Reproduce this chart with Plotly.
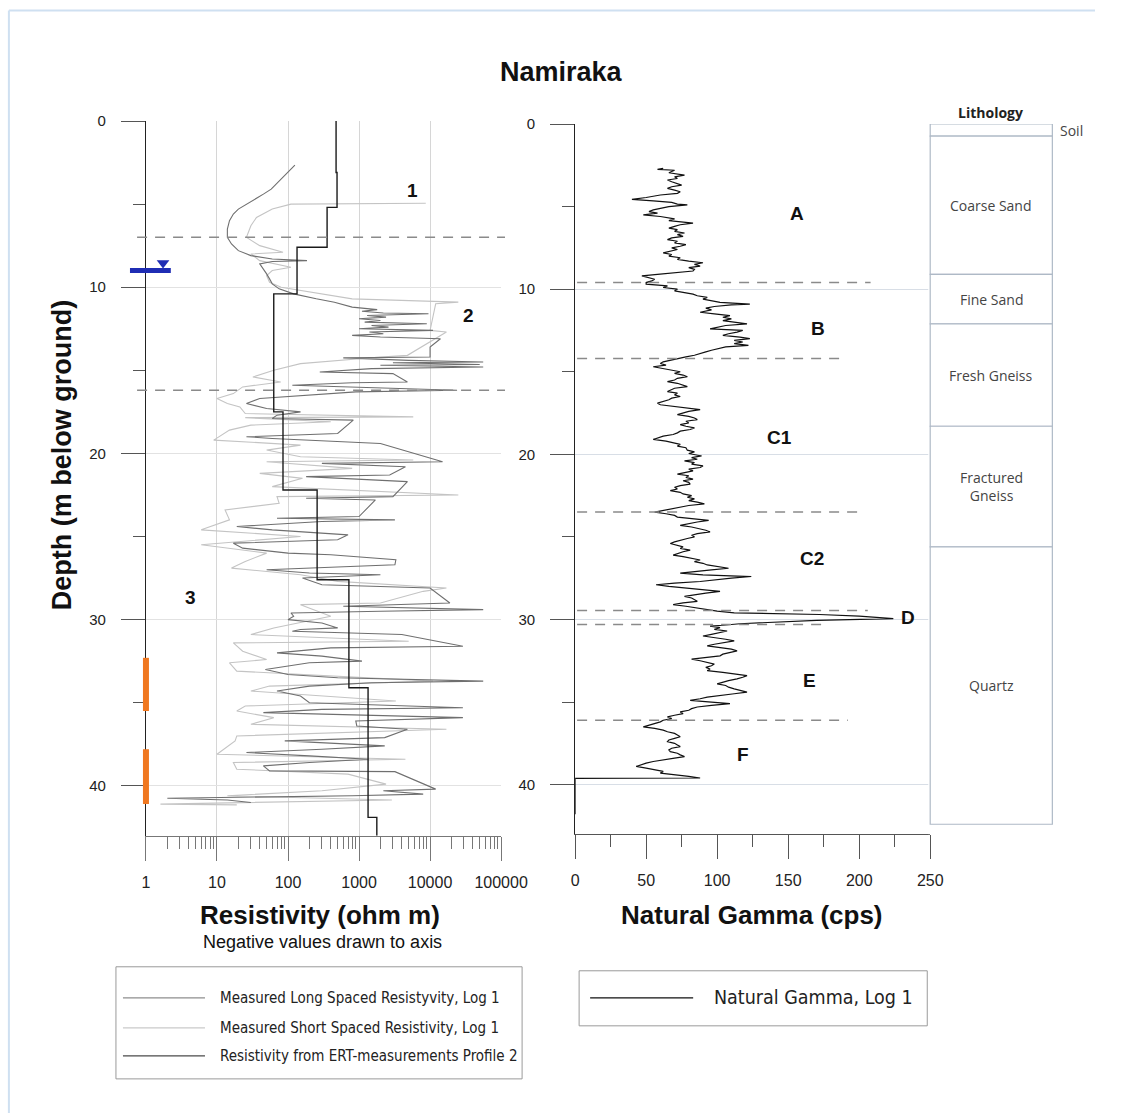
import math
import plotly.graph_objects as go

W, H = 1122, 1113

# ---------------- data ----------------
# Measured long spaced resistivity (ohm m) vs depth (m)
ls_depth = [2.65, 2.9, 3.2, 3.5, 3.8, 4.1, 4.4, 4.7, 5.0, 5.3,
            5.6, 6.0, 6.5, 7.0, 7.4, 7.8, 8.1, 8.3, 8.4, 8.45,
            8.6, 8.9, 9.2, 9.5, 9.8, 10.1, 10.4, 10.7, 10.9, 11.2,
            11.35, 11.45, 11.55, 11.6, 11.7, 11.8, 11.9, 12.0, 12.1, 12.2,
            12.3, 12.4, 12.5, 12.6, 12.7, 12.8, 12.9, 13.0, 13.1, 13.6,
            14.2, 14.25, 14.4, 14.5, 14.55, 14.65, 14.7, 14.8, 14.9, 15.1,
            15.2, 15.7, 15.75, 15.9, 16.2, 16.3, 16.5, 16.7, 17.0, 17.3,
            17.5, 17.7, 17.9, 18.0, 18.8, 18.9, 19.0, 19.1, 19.4, 20.5,
            20.6, 20.8, 21.3, 21.4, 21.7, 22.6, 22.7, 22.8, 23.8, 23.9,
            24.0, 24.1, 24.4, 24.6, 24.9, 25.2, 25.3, 25.4, 25.7, 26.0,
            26.1, 26.4, 26.7, 27.0, 27.2, 27.3, 27.5, 27.9, 28.1, 29.0,
            29.2, 29.4, 29.5, 29.6, 29.8, 30.0, 30.2, 30.5, 30.6, 30.7,
            30.9, 31.6, 31.7, 31.9, 32.0, 32.2, 32.5, 32.6, 33.0, 33.3,
            33.5, 33.7, 33.8, 34.0, 34.3, 34.6, 35.0, 35.3, 35.4, 35.6,
            35.9, 36.1, 36.4, 36.6, 37.1, 37.3, 37.6, 37.8, 38.0, 38.2,
            38.4, 38.6, 38.8, 39.1, 39.15, 40.2, 40.3, 40.5, 40.6, 40.75,
            40.85, 41.0]
ls_val = [125, 110, 95, 80, 68, 58, 45, 34, 26, 20,
          17, 15, 14, 14, 16, 20, 30, 60, 185, 60,
          40, 45, 50, 55, 60, 75, 120, 250, 450, 800,
          1800, 1100, 2200, 9500, 1300, 2400, 1000, 2000, 1200, 9000,
          1500, 2600, 1000, 11000, 1400, 2200, 800, 2000, 14000, 10000,
          10000, 600, 5000, 56000, 3000, 50000, 2000, 56000, 1500, 280,
          3000, 4800, 800, 115, 24000, 900, 160, 40, 26, 50,
          150, 70, 60, 830, 500, 80, 26, 60, 2000, 15000,
          300, 4500, 2700, 180, 4800, 3000, 180, 1700, 1000, 70,
          3200, 300, 19, 60, 700, 500, 60, 17, 23, 100,
          400, 3300, 3200, 50, 200, 2000, 160, 300, 10000, 19000,
          600, 56000, 2000, 110, 120, 100, 300, 500, 150, 115,
          4000, 29000, 400, 130, 70, 300, 1100, 200, 48, 100,
          500, 56000, 1500, 200, 70, 150, 200, 29000, 300, 45,
          29000, 900, 930, 4800, 2300, 90, 2300, 300, 26, 200,
          1350, 200, 45, 55, 3200, 12000, 2200, 8000, 800, 2,
          14, 30]

# Measured short spaced resistivity (ohm m) vs depth (m)
ss_depth = [4.95, 5.0, 5.3, 5.8, 6.3, 7.0, 7.5, 7.9, 8.0, 8.4,
            8.8, 9.0, 9.3, 9.7, 10.0, 10.4, 10.7, 10.9, 11.0, 12.6,
            12.7, 14.1, 14.2, 14.6, 15.0, 15.4, 15.7, 16.0, 16.4, 16.7,
            17.0, 17.2, 17.6, 17.8, 17.85, 18.1, 18.3, 18.6, 19.2, 19.5,
            19.8, 20.2, 20.4, 20.5, 20.9, 21.2, 21.5, 22.0, 22.5, 22.6,
            23.0, 23.4, 24.0, 24.6, 25.0, 25.5, 26.0, 26.5, 26.9, 27.3,
            27.7, 28.1, 28.3, 29.0, 29.1, 29.8, 30.5, 30.9, 31.3, 31.4,
            31.9, 32.4, 32.6, 33.1, 33.7, 34.0, 34.3, 34.9, 35.2, 35.5,
            35.9, 36.3, 36.6, 37.0, 37.3, 38.1, 38.4, 38.6, 39.0, 39.3,
            39.9, 40.3, 40.6, 40.85, 41.1, 41.15]
ss_val = [8700, 110, 60, 36, 30, 26, 40, 85, 30, 40,
          110, 60, 50, 55, 80, 280, 800, 25000, 12000, 10000,
          17000, 4800, 2000, 150, 63, 32, 79, 23, 17, 10,
          14, 21, 25, 5800, 25, 400, 30, 15, 9, 150,
          50, 150, 5800, 50, 800, 40, 160, 60, 25000, 70,
          75, 13, 15, 6, 150, 6, 50, 25, 16, 150,
          500, 17000, 8000, 2000, 150, 400, 63, 30, 5000, 17,
          23, 50, 15, 19, 11000, 55, 30, 3300, 25, 19,
          63, 30, 17000, 19, 18, 10, 4500, 17, 19, 700,
          2400, 300, 14, 2900, 1.6, 19]

# Resistivity from ERT measurements (layer tops and values)
ert_top = [0, 3.1, 5.2, 7.6, 10.4, 17.5, 22.2, 27.6, 34.1, 41.9, 43]
ert_val = [475, 490, 355, 134, 63, 85, 257, 720, 1340, 1780, 1780]

# Natural gamma (cps) vs depth (m)
gamma_depth = [2.69, 2.75, 2.8, 2.95, 3.09, 3.2, 3.3, 3.39, 3.5, 3.6,
               3.7, 3.8, 3.9, 4.0, 4.1, 4.2, 4.3, 4.45, 4.56, 4.65,
               4.75, 4.85, 4.9, 5.0, 5.1, 5.2, 5.3, 5.4, 5.5, 5.6,
               5.75, 5.85, 6.0, 6.1, 6.2, 6.3, 6.4, 6.5, 6.6, 6.7,
               6.8, 6.9, 7.0, 7.1, 7.2, 7.3, 7.4, 7.5, 7.6, 7.7,
               7.8, 7.9, 8.0, 8.1, 8.2, 8.3, 8.4, 8.5, 8.6, 8.7,
               8.8, 8.9, 9.0, 9.1, 9.2, 9.3, 9.4, 9.5, 9.6, 9.7,
               9.8, 9.9, 10.0, 10.1, 10.2, 10.3, 10.4, 10.5, 10.6, 10.7,
               10.8, 10.9, 10.95, 11.05, 11.15, 11.25, 11.4, 11.5, 11.6, 11.7,
               11.8, 11.9, 12.0, 12.1, 12.2, 12.3, 12.4, 12.5, 12.6, 12.7,
               12.8, 12.9, 13.0, 13.1, 13.2, 13.3, 13.4, 13.5, 13.6, 13.7,
               13.8, 13.9, 14.0, 14.1, 14.2, 14.3, 14.4, 14.5, 14.6, 14.7,
               14.8, 14.9, 15.0, 15.1, 15.2, 15.3, 15.4, 15.5, 15.6, 15.7,
               15.8, 15.9, 16.0, 16.1, 16.2, 16.3, 16.4, 16.5, 16.6, 16.7,
               16.8, 16.9, 17.0, 17.1, 17.2, 17.3, 17.4, 17.5, 17.6, 17.7,
               17.8, 17.9, 18.0, 18.1, 18.2, 18.3, 18.4, 18.5, 18.6, 18.7,
               18.8, 18.9, 19.0, 19.1, 19.2, 19.3, 19.4, 19.5, 19.6, 19.75,
               19.85, 19.95, 20.1, 20.2, 20.3, 20.4, 20.5, 20.6, 20.7, 20.8,
               20.9, 21.0, 21.1, 21.2, 21.3, 21.4, 21.5, 21.6, 21.7, 21.8,
               21.9, 22.0, 22.1, 22.2, 22.3, 22.4, 22.5, 22.6, 22.7, 22.8,
               22.9, 23.0, 23.1, 23.2, 23.3, 23.4, 23.5, 23.6, 23.7, 23.8,
               23.9, 24.0, 24.1, 24.2, 24.3, 24.4, 24.5, 24.6, 24.7, 24.8,
               24.9, 25.0, 25.1, 25.2, 25.3, 25.4, 25.5, 25.6, 25.7, 25.8,
               25.9, 26.0, 26.1, 26.2, 26.3, 26.4, 26.5, 26.6, 26.7, 26.8,
               26.9, 27.0, 27.1, 27.2, 27.3, 27.4, 27.5, 27.6, 27.7, 27.8,
               27.9, 28.0, 28.1, 28.2, 28.3, 28.4, 28.5, 28.6, 28.7, 28.8,
               28.9, 29.0, 29.1, 29.2, 29.3, 29.4, 29.5, 29.6, 29.7, 29.8,
               29.95, 30.05, 30.15, 30.26, 30.35, 30.4, 30.5, 30.6, 30.7, 30.8,
               30.9, 31.0, 31.1, 31.2, 31.3, 31.4, 31.5, 31.6, 31.7, 31.8,
               31.9, 32.0, 32.1, 32.2, 32.3, 32.4, 32.5, 32.6, 32.7, 32.8,
               32.9, 33.0, 33.1, 33.2, 33.3, 33.4, 33.5, 33.6, 33.7, 33.8,
               33.9, 34.0, 34.1, 34.2, 34.3, 34.4, 34.5, 34.6, 34.7, 34.8,
               34.9, 35.0, 35.1, 35.2, 35.3, 35.4, 35.5, 35.6, 35.7, 35.8,
               35.9, 36.0, 36.1, 36.2, 36.3, 36.4, 36.5, 36.6, 36.7, 36.8,
               36.9, 37.0, 37.1, 37.2, 37.3, 37.4, 37.5, 37.6, 37.7, 37.8,
               37.9, 38.0, 38.1, 38.2, 38.3, 38.4, 38.5, 38.6, 38.7, 38.8,
               38.9, 39.0, 39.1, 39.2, 39.3, 39.4, 39.5, 39.6, 39.62, 41.8]
gamma_cps = [62, 58, 70, 66, 77, 70, 72, 65, 68, 72,
             75, 68, 65, 70, 74, 72, 60, 50, 40, 55,
             68, 72, 79, 66, 60, 55, 52, 58, 48, 60,
             70, 66, 83, 74, 70, 66, 72, 70, 77, 72,
             76, 68, 65, 72, 70, 78, 74, 68, 72, 66,
             62, 68, 66, 74, 72, 80, 90, 84, 88, 80,
             84, 83, 67, 58, 47, 52, 56, 54, 50, 50,
             65, 62, 72, 70, 78, 83, 86, 93, 90, 96,
             102, 123, 110, 98, 92, 96, 88, 98, 109, 104,
             110, 104, 112, 121, 106, 100, 95, 118, 114, 108,
             104, 116, 123, 112, 118, 112, 122, 106, 100, 96,
             92, 88, 84, 78, 72, 68, 62, 60, 64, 55,
             62, 68, 74, 70, 76, 79, 72, 70, 65, 72,
             76, 79, 70, 68, 65, 72, 70, 74, 68, 66,
             62, 58, 60, 70, 80, 88, 80, 76, 72, 80,
             84, 86, 78, 80, 74, 78, 84, 81, 74, 72,
             69, 62, 58, 55, 64, 70, 74, 72, 78, 79,
             84, 80, 89, 82, 86, 77, 84, 82, 90, 88,
             80, 83, 76, 72, 80, 78, 83, 76, 80, 81,
             74, 70, 72, 67, 74, 76, 82, 79, 84, 80,
             86, 91, 80, 74, 66, 60, 56, 64, 70, 72,
             84, 94, 86, 80, 74, 82, 88, 92, 95, 86,
             82, 84, 79, 74, 70, 67, 72, 76, 74, 81,
             76, 72, 69, 76, 82, 88, 84, 90, 93, 100,
             108, 96, 84, 74, 90, 124, 110, 98, 88, 70,
             57, 66, 80, 94, 102, 92, 84, 77, 82, 84,
             86, 76, 69, 78, 86, 93, 100, 112, 172, 200,
             224, 170, 140, 116, 104, 95, 102, 98, 107, 100,
             96, 90, 100, 106, 112, 104, 98, 93, 104, 110,
             114, 108, 104, 102, 90, 82, 88, 94, 98, 96,
             92, 95, 93, 104, 114, 121, 118, 114, 108, 104,
             100, 106, 108, 112, 116, 121, 112, 100, 93, 88,
             81, 96, 109, 96, 86, 82, 80, 74, 76, 70,
             65, 68, 62, 60, 56, 52, 48, 56, 62, 65,
             70, 72, 74, 70, 66, 65, 70, 72, 74, 68,
             66, 67, 72, 74, 77, 70, 62, 55, 50, 46,
             43, 50, 56, 62, 60, 72, 80, 88, 0, 0]

# zone boundaries and labels
res_bound_depth = [7.0, 16.2]
res_zone_labels = ["1", "2", "3"]
res_zone_value = [5750, 34600, 4.2]
res_zone_depth = [4.2, 11.7, 28.7]

gamma_bound_depth = [9.6, 14.2, 23.5, 29.45, 30.3, 36.1]
gamma_bound_end = [208, 190, 204, 206, 174, 192]
gamma_zone_labels = ["A", "B", "C1", "C2", "D", "E", "F"]
gamma_zone_cps = [156, 171, 144, 167, 234, 165, 118]
gamma_zone_depth = [5.4, 12.4, 19.0, 26.3, 29.9, 33.7, 38.2]

# lithology
litho_names = ["", "Coarse Sand", "Fine Sand", "Fresh Gneiss", "Fractured<br>Gneiss", "Quartz"]
litho_top = [0, 0.73, 9.1, 12.1, 18.3, 25.6]
litho_bottom = [0.73, 9.1, 12.1, 18.3, 25.6, 42.4]

# well screens and water table
screen_top = [32.3, 37.8]
screen_bottom = [35.5, 41.1]
water_table_depth = 9.0

res_ticks = [1, 10, 100, 1000, 10000, 100000]
res_ticktext = ["1", "10", "100", "1000", "10000", "100000"]
gamma_ticks = [0, 50, 100, 150, 200, 250]
depth_ticks = [0, 10, 20, 30, 40]

series_names = ["Measured Long Spaced Resistyvity, Log 1",
                "Measured Short Spaced Resistivity, Log 1",
                "Resistivity from ERT-measurements Profile 2",
                "Natural Gamma, Log 1"]
series_colors = ["#6f6f6f", "#c4c4c4", "#1a1a1a", "#111111"]
legend_colors = ["#8e8e8e", "#cacaca", "#4a4a4a", "#111111"]

# ---------------- layout helpers ----------------
# target positions are given in screenshot pixels; the capture maps page
# pixels to screenshot pixels as X = 4.1 + 0.972 x, Y = 9.1 + 0.991 y.
SX, OX, SY, OY = 0.972, 4.1, 0.991, 9.1

def px(X):
    return ((X - OX) / SX) / W

def py(Y):
    return 1 - ((Y - OY) / SY) / H

FONT = "Liberation Sans, Arial, sans-serif"
NARROW = "DejaVu Sans Condensed, Liberation Sans Narrow, sans-serif"
LITHO_FONT = "Open Sans, Noto Sans, sans-serif"

fig = go.Figure()

fig.add_trace(go.Scatter(x=ss_val, y=ss_depth, mode="lines", name=series_names[1],
                         line=dict(color=series_colors[1], width=1.1), xaxis="x", yaxis="y"))
fig.add_trace(go.Scatter(x=ls_val, y=ls_depth, mode="lines", name=series_names[0],
                         line=dict(color=series_colors[0], width=1.1), xaxis="x", yaxis="y"))
fig.add_trace(go.Scatter(x=ert_val, y=ert_top, mode="lines", name=series_names[2],
                         line=dict(color=series_colors[2], width=1.4, shape="vh"), xaxis="x", yaxis="y"))
fig.add_trace(go.Scatter(x=[1.74], y=[water_table_depth - 0.45], mode="markers",
                         marker=dict(symbol="triangle-down", size=11, color="#1f2db4"),
                         cliponaxis=False, xaxis="x", yaxis="y", name="Water table"))

fig.add_trace(go.Scatter(x=gamma_cps, y=gamma_depth, mode="lines", name=series_names[3],
                         line=dict(color=series_colors[3], width=1.2), xaxis="x2", yaxis="y2"))

litho_thick = [b - t for t, b in zip(litho_top, litho_bottom)]
fig.add_trace(go.Bar(x=[0.5] * len(litho_top), y=litho_thick, base=litho_top, width=1,
                     marker=dict(color="white", line=dict(color="#aeb9c6", width=1.2)),
                     xaxis="x3", yaxis="y3", name="Lithology"))

for tr in fig.data:
    tr.showlegend = False
    tr.hoverinfo = "skip"

shapes = []
for d in res_bound_depth:
    shapes.append(dict(type="line", xref="x domain", yref="y", x0=-0.025, x1=1.011, y0=d, y1=d,
                       line=dict(color="#8a8a8a", width=1.5, dash="10px,8px")))
for d, e in zip(gamma_bound_depth, gamma_bound_end):
    shapes.append(dict(type="line", xref="x2", yref="y2", x0=1.4, x1=e, y0=d, y1=d,
                       line=dict(color="#8a8a8a", width=1.5, dash="10px,8px")))
for t, b in zip(screen_top, screen_bottom):
    shapes.append(dict(type="line", xref="x domain", yref="y", x0=0, x1=0, y0=t, y1=b,
                       line=dict(color="#f07820", width=6)))
shapes.append(dict(type="line", xref="x domain", yref="y", x0=-0.045, x1=0.070,
                   y0=water_table_depth, y1=water_table_depth,
                   line=dict(color="#1f2db4", width=5)))

# outer frame (top & left)
shapes.append(dict(type="line", xref="paper", yref="paper", x0=px(9), x1=1.0, y0=py(10.5), y1=py(10.5),
                   line=dict(color="#cfe0f1", width=2)))
shapes.append(dict(type="line", xref="paper", yref="paper", x0=px(9), x1=px(9), y0=py(10.5), y1=0,
                   line=dict(color="#cfe0f1", width=2)))

# legend boxes
shapes.append(dict(type="rect", xref="paper", yref="paper", x0=px(116), x1=px(522), y0=py(966), y1=py(1078),
                   line=dict(color="#9a9a9a", width=1)))
shapes.append(dict(type="rect", xref="paper", yref="paper", x0=px(579), x1=px(927), y0=py(970), y1=py(1025),
                   line=dict(color="#9a9a9a", width=1)))
leg_rows = [997, 1027, 1055]
for i, yy in enumerate(leg_rows):
    shapes.append(dict(type="line", xref="paper", yref="paper", x0=px(123), x1=px(205), y0=py(yy), y1=py(yy),
                       line=dict(color=legend_colors[i], width=1.3)))
shapes.append(dict(type="line", xref="paper", yref="paper", x0=px(590), x1=px(693), y0=py(997), y1=py(997),
                   line=dict(color=legend_colors[3], width=1.3)))

annotations = []

def ann(text, x, y, size, xref="paper", yref="paper", xanchor="center", yanchor="middle",
        family=FONT, color="#111", **kw):
    annotations.append(dict(text=text, x=x, y=y, xref=xref, yref=yref, xanchor=xanchor, yanchor=yanchor,
                            showarrow=False, font=dict(family=family, size=size, color=color), **kw))

ann("<b>Namiraka</b>", px(561), py(72), 27)
ann("<b>Depth (m below ground)</b>", px(62), py(455), 27, textangle=-90)
ann("<b>Resistivity (ohm m)</b>", px(320), py(914), 26)
ann("Negative values drawn to axis", px(322), py(941), 18)
ann("<b>Natural Gamma (cps)</b>", px(752), py(914), 26)

for lab, v, d in zip(res_zone_labels, res_zone_value, res_zone_depth):
    ann("<b>%s</b>" % lab, math.log10(v), d, 19, xref="x", yref="y")
for lab, v, d in zip(gamma_zone_labels, gamma_zone_cps, gamma_zone_depth):
    ann("<b>%s</b>" % lab, v, d, 19, xref="x2", yref="y2")

ann("<b>Lithology</b>", 0.49, py(113), 14, xref="x3", family=LITHO_FONT, color="#222")
ann("Soil", px(1058), (litho_top[0] + litho_bottom[0]) / 2, 14, yref="y3", xanchor="left",
    family=LITHO_FONT, color="#444")
for n, t, b in zip(litho_names, litho_top, litho_bottom):
    if n:
        ann(n, 0.5, (t + b) / 2, 14, xref="x3", yref="y3", family=LITHO_FONT, color="#444")

for i, yy in enumerate(leg_rows):
    ann(series_names[i], px(218), py(yy), 15, xanchor="left", family=NARROW, color="#222")
ann(series_names[3], px(712), py(997), 19.5, xanchor="left", family=NARROW, color="#222")

res_minor = [m * 10 ** e for e in range(5) for m in range(2, 10)]

axis_common = dict(zeroline=False, fixedrange=True, ticks="outside", ticklen=24, tickwidth=1)

fig.update_layout(
    width=W, height=H, autosize=False,
    margin=dict(l=0, r=0, t=0, b=0, pad=0),
    paper_bgcolor="white", plot_bgcolor="white",
    showlegend=False, hovermode=False,
    shapes=shapes, annotations=annotations,
    xaxis=dict(type="log", range=[0, 5], domain=[px(146), px(501)], anchor="y",
               tickmode="array", tickvals=res_ticks, ticktext=res_ticktext,
               showline=True, linecolor="#777", linewidth=1, tickcolor="#777",
               showgrid=True, gridcolor="#d6d6d6", gridwidth=1,
               minor=dict(tickmode="array", tickvals=res_minor, ticks="outside", ticklen=12,
                          tickcolor="#777", showgrid=False),
               tickfont=dict(family=FONT, size=16, color="#222"), ticklabelstandoff=8,
               **axis_common),
    yaxis=dict(range=[43, 0], domain=[py(835), py(121)], anchor="x",
               tickmode="array", tickvals=depth_ticks,
               showline=True, linecolor="#222", linewidth=1, tickcolor="#555",
               showgrid=True, gridcolor="#e2e2e2", gridwidth=1,
               minor=dict(tickmode="array", tickvals=[5, 15, 25, 35], ticks="outside", ticklen=12,
                          tickcolor="#555", showgrid=False),
               tickfont=dict(family=FONT, size=15, color="#222"), ticklabelstandoff=12,
               **axis_common),
    xaxis2=dict(range=[0, 250], domain=[px(575), px(930)], anchor="y2",
                tickmode="array", tickvals=gamma_ticks,
                showline=True, linecolor="#555", linewidth=1, tickcolor="#555",
                showgrid=False,
                minor=dict(tickmode="array", tickvals=[25, 75, 125, 175, 225], ticks="outside", ticklen=12,
                           tickcolor="#555", showgrid=False),
                tickfont=dict(family=FONT, size=16, color="#222"), ticklabelstandoff=8,
                **axis_common),
    yaxis2=dict(range=[43, 0], domain=[py(833.5), py(124)], anchor="x2",
                tickmode="array", tickvals=depth_ticks,
                showline=True, linecolor="#222", linewidth=1, tickcolor="#555",
                showgrid=True, gridcolor="#d8dee6", gridwidth=1,
                minor=dict(tickmode="array", tickvals=[5, 15, 25, 35], ticks="outside", ticklen=12,
                           tickcolor="#555", showgrid=False),
                tickfont=dict(family=FONT, size=15, color="#222"), ticklabelstandoff=12,
                **axis_common),
    xaxis3=dict(range=[-0.016, 1.016], domain=[px(928), px(1054)], anchor="y3", visible=False, fixedrange=True),
    yaxis3=dict(range=[43, 0], domain=[py(833.5), py(124)], anchor="x3", visible=False, fixedrange=True),
)

fig.write_html("out.html", config={"displayModeBar": False, "staticPlot": True, "responsive": False},
               post_script="document.body.style.margin='0px';document.body.style.overflow='hidden';")
